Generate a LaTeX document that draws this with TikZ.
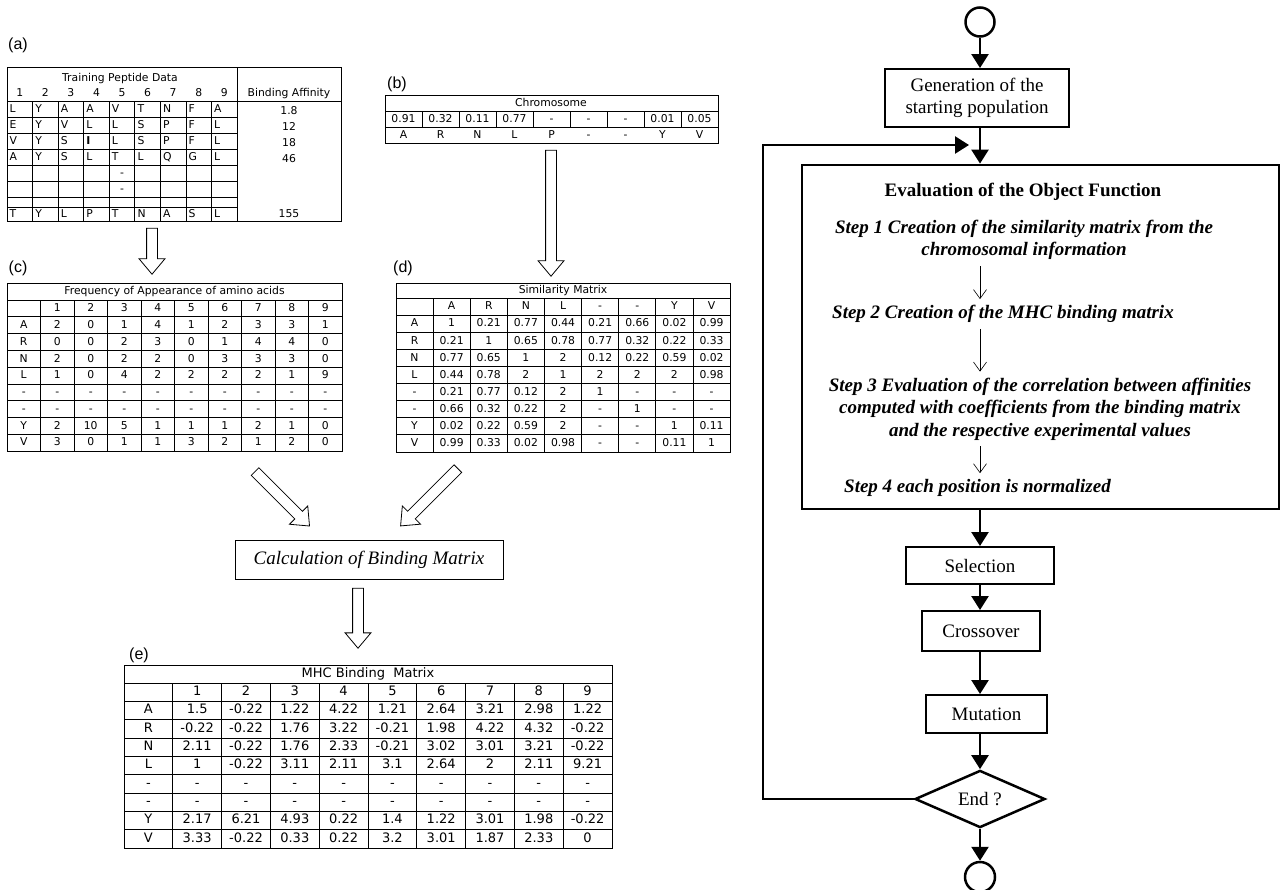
\documentclass[tikz,border=0pt]{standalone}
\usepackage{fontspec}
\setmainfont{Liberation Serif}
\newfontfamily\tabfont{DejaVu Sans}
\newfontfamily\labfont{Liberation Sans}
\usetikzlibrary{arrows.meta,shapes.geometric,shapes.arrows}

\begin{document}
\begin{tikzpicture}[x=1pt,y=-1pt,
    tab/.style={line width=0.8pt},
    cell/.style={inner sep=0pt,text height=1.75ex,text depth=0.3ex,font=\tabfont\fontsize{10.8}{12}\selectfont},
    bigcell/.style={inner sep=0pt,text height=1.75ex,text depth=0.3ex,font=\tabfont\fontsize{13}{14}\selectfont},
    panel/.style={inner sep=0pt,font=\labfont\fontsize{16}{18}\selectfont},
    fat/.style={single arrow,draw,line width=0.8pt,fill=white,inner sep=0pt,minimum width=25pt,
        single arrow head extend=7.5pt,single arrow tip angle=80},
    box/.style={draw,line width=2pt,inner sep=0pt,align=center,font=\fontsize{19}{21.5}\selectfont},
    steptext/.style={inner sep=0pt,align=center,font=\fontsize{19}{22.5}\selectfont\bfseries\itshape},
    flow/.style={line width=2.5pt,-{Triangle[length=14pt,width=17pt]}},
    substep/.style={line width=0.6pt,-{Straight Barb[length=9pt,width=13pt]},shorten <=6pt,shorten >=6pt}]
    \useasboundingbox (0,0) rectangle (1281,889);

    % panel letters
    \node[panel] (la) at (18,45) {(a)};
    \node[panel] (lb) at (397,84) {(b)};
    \node[panel] (lc) at (18,268) {(c)};
    \node[panel] (ld) at (403,268) {(d)};
    \node[panel] (le) at (139,655) {(e)};

    % (a) training data
    \draw[tab] (7,67) rectangle (341,221);
    \draw[tab] (7,101) -- (341,101);
    \draw[tab] (237,67) -- (237,221);
    \foreach \y in {117,133,149,165,181,197,207} \draw[tab] (7,\y) -- (237,\y);
    \foreach \i in {1,...,8} \draw[tab] ({7+25.56*\i},101) -- ({7+25.56*\i},221);
    \node[cell] (tabA) at (120,78) {Training Peptide Data};
    \foreach \j in {1,...,9} \node[cell] at ({7+25.56*(\j-0.5)},93) {\j};
    \node[cell] at (289,93) {Binding Affinity};
    \foreach \r [count=\k] in {{L,Y,A,A,V,T,N,F,A},{E,Y,V,L,L,S,P,F,L},{V,Y,S,\textbf{I},L,S,P,F,L},{A,Y,S,L,T,L,Q,G,L}}
        \foreach \v [count=\j from 0] in \r
            \node[cell,anchor=west] at ({9.5+25.56*\j},{109+16*(\k-1)}) {\v};
    \foreach \v [count=\j from 0] in {T,Y,L,P,T,N,A,S,L}
        \node[cell,anchor=west] at ({9.5+25.56*\j},214) {\v};
    \node[cell] at (122,173) {-};
    \node[cell] at (122,189) {-};
    \foreach \v/\y in {1.8/111,12/127,18/143,46/159,155/214}
        \node[cell] at (289,\y) {\v};

    % (b) chromosome
    \draw[tab] (385,95) rectangle (718,143);
    \draw[tab] (385,111) -- (718,111);
    \draw[tab] (385,127) -- (718,127);
    \foreach \i in {1,...,8} \draw[tab] ({385+37*\i},111) -- ({385+37*\i},127);
    \node[cell] (tabB) at (551,103) {Chromosome};
    \foreach \v [count=\j from 0] in {0.91,0.32,0.11,0.77,-,-,-,0.01,0.05}
        \node[cell] at ({403.5+37*\j},119) {\v};
    \foreach \v [count=\j from 0] in {A,R,N,L,P,-,-,Y,V}
        \node[cell] at ({403.5+37*\j},135) {\v};

    % (c) frequency
    \draw[tab] (7,283) rectangle (342,451);
    \foreach \i in {0,...,8} \draw[tab] (7,{300+16.78*\i}) -- (342,{300+16.78*\i});
    \foreach \i in {1,...,9} \draw[tab] ({7+33.5*\i},300) -- ({7+33.5*\i},451);
    \node[cell] (tabC) at (174.5,291.5) {Frequency of Appearance of amino acids};
    \foreach \j in {1,...,9} \node[cell] at ({23.75+33.5*\j},308.4) {\j};
    \foreach \r [count=\k] in {{A,2,0,1,4,1,2,3,3,1},{R,0,0,2,3,0,1,4,4,0},{N,2,0,2,2,0,3,3,3,0},
            {L,1,0,4,2,2,2,2,1,9},{-,-,-,-,-,-,-,-,-,-},{-,-,-,-,-,-,-,-,-,-},
            {Y,2,10,5,1,1,1,2,1,0},{V,3,0,1,1,3,2,1,2,0}}
        \foreach \v [count=\j from 0] in \r
            \node[cell] at ({23.75+33.5*\j},{308.4+16.78*\k}) {\v};

    % (d) similarity
    \draw[tab] (396,283) rectangle (730,452);
    \foreach \i in {0,...,8} \draw[tab] (396,{298+17.11*\i}) -- (730,{298+17.11*\i});
    \draw[tab] (433,298) -- (433,452);
    \foreach \i in {1,...,7} \draw[tab] ({433+37.13*\i},298) -- ({433+37.13*\i},452);
    \node[cell] (tabD) at (563,290.5) {Similarity Matrix};
    \foreach \v [count=\j] in {A,R,N,L,-,-,Y,V} \node[cell] at ({414.5+37.13*\j},306.5) {\v};
    \foreach \r [count=\k] in {{A,1,0.21,0.77,0.44,0.21,0.66,0.02,0.99},{R,0.21,1,0.65,0.78,0.77,0.32,0.22,0.33},
            {N,0.77,0.65,1,2,0.12,0.22,0.59,0.02},{L,0.44,0.78,2,1,2,2,2,0.98},
            {-,0.21,0.77,0.12,2,1,-,-,-},{-,0.66,0.32,0.22,2,-,1,-,-},
            {Y,0.02,0.22,0.59,2,-,-,1,0.11},{V,0.99,0.33,0.02,0.98,-,-,0.11,1}}
        \foreach \v [count=\j from 0] in \r
            \node[cell] at ({414.5+37.13*\j},{306.5+17.11*\k}) {\v};

    % hollow arrows
    \node[fat,rotate=-90,minimum height=46pt] (arrA) at (152,248) {\rule{0pt}{10pt}};
    \node[fat,rotate=-90,minimum height=126pt] (arrB) at (551,210) {\rule{0pt}{10pt}};
    \node[fat,rotate=-45,minimum height=77pt] (arrC) at (280,496.5) {\rule{0pt}{10pt}};
    \node[fat,rotate=-135,minimum height=81pt] (arrD) at (431.5,495) {\rule{0pt}{10pt}};
    \node[draw,line width=0.8pt,minimum width=268pt,minimum height=39pt,inner sep=0pt,
        font=\fontsize{19}{21}\selectfont\itshape] (calc) at (369,559.5) {Calculation of Binding Matrix};
    \node[fat,rotate=-90,minimum height=60pt] (arrE) at (358,615) {\rule{0pt}{10pt}};

    % (e) MHC binding matrix
    \draw[tab] (124,665) rectangle (612,848);
    \foreach \i in {0,...,8} \draw[tab] (124,{683+18.33*\i}) -- (612,{683+18.33*\i});
    \foreach \i in {1,...,9} \draw[tab] ({124+48.8*\i},683) -- ({124+48.8*\i},848);
    \node[bigcell] (tabE) at (368,674) {MHC Binding\ \ Matrix};
    \foreach \j in {1,...,9} \node[bigcell] at ({148.4+48.8*\j},692.2) {\j};
    \foreach \r [count=\k] in {{A,1.5,-0.22,1.22,4.22,1.21,2.64,3.21,2.98,1.22},
            {R,-0.22,-0.22,1.76,3.22,-0.21,1.98,4.22,4.32,-0.22},
            {N,2.11,-0.22,1.76,2.33,-0.21,3.02,3.01,3.21,-0.22},
            {L,1,-0.22,3.11,2.11,3.1,2.64,2,2.11,9.21},
            {-,-,-,-,-,-,-,-,-,-},{-,-,-,-,-,-,-,-,-,-},
            {Y,2.17,6.21,4.93,0.22,1.4,1.22,3.01,1.98,-0.22},
            {V,3.33,-0.22,0.33,0.22,3.2,3.01,1.87,2.33,0}}
        \foreach \v [count=\j from 0] in \r
            \node[bigcell] at ({148.4+48.8*\j},{692.2+18.33*\k}) {\v};

    % genetic algorithm flow
    \node[draw,circle,line width=2.5pt,minimum size=29pt,inner sep=0pt] (start) at (980,22) {};
    \node[box,minimum width=184pt,minimum height=58pt] (gen) at (977,98) {Generation of the\\starting population};
    \node[draw,line width=2.8pt,minimum width=477pt,minimum height=344pt,inner sep=0pt] (eval) at (1040.5,337) {};
    \node[steptext,font=\fontsize{19}{21}\selectfont\bfseries] (title) at (1023,192) {Evaluation of the Object Function};
    \node[steptext] (step1) at (1024,240) {Step 1 Creation of the similarity matrix from the\\chromosomal information};
    \node[steptext,anchor=west] (step2) at (832,314) {Step 2 Creation of the MHC binding matrix};
    \node[steptext] (step3) at (1040,409) {Step 3 Evaluation of the correlation between affinities\\computed with coefficients from the binding matrix\\and the respective experimental values};
    \node[steptext,anchor=west] (step4) at (844,488) {Step 4 each position is normalized};
    \node[box,minimum width=148pt,minimum height=37pt] (sel) at (980,565.5) {Selection};
    \node[box,minimum width=118pt,minimum height=40pt] (cross) at (981,631) {Crossover};
    \node[box,minimum width=121pt,minimum height=38pt] (mut) at (986.5,714) {Mutation};
    \node[draw,diamond,line width=2.5pt,minimum width=130pt,minimum height=56pt,inner sep=0pt,
        font=\fontsize{19}{21}\selectfont] (endq) at (980,799) {End ?};
    \node[draw,circle,line width=2.5pt,minimum size=30pt,inner sep=0pt] (stop) at (980,877) {};
    \coordinate (loopin) at (969,145);

    \draw[flow] (start) -- (start |- gen.north);
    \draw[flow] (gen.south -| start) -- (start |- eval.north);
    \draw[flow] (endq.west) -| (763,145) -- (loopin);
    \draw[substep] (step1.south -| start) -- (step2.north -| start);
    \draw[substep] (step2.south -| start) -- (step3.north -| start);
    \draw[substep] (step3.south -| start) -- (step4.north -| start);
    \draw[flow] (eval.south -| sel) -- (sel);
    \draw[flow] (sel.south -| endq) -- (cross.north -| endq);
    \draw[flow] (cross.south -| endq) -- (mut.north -| endq);
    \draw[flow] (mut.south -| endq) -- (endq);
    \draw[flow] (endq) -- (stop);
\end{tikzpicture}
\end{document}
